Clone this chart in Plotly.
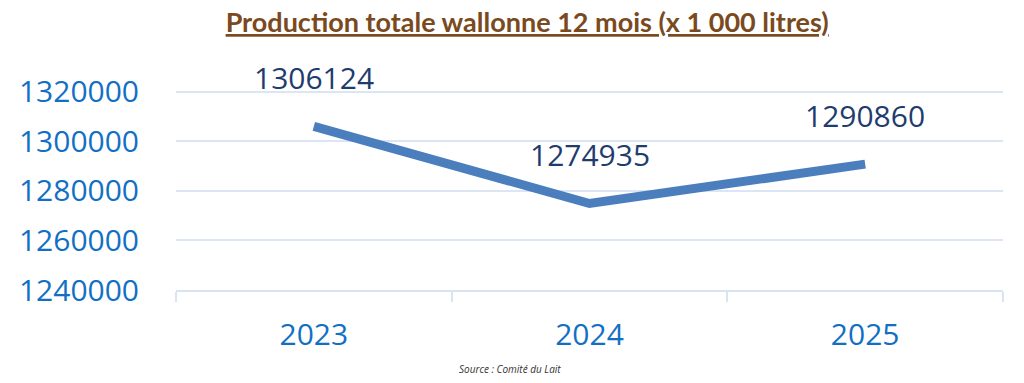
import plotly.graph_objects as go

years = ["2023", "2024", "2025"]
production = [1306124, 1274935, 1290860]
y_ticks = [1240000, 1260000, 1280000, 1300000, 1320000]

fig = go.Figure()
fig.add_trace(go.Scatter(
    x=years, y=production, mode="lines",
    line=dict(color="#4a7ebd", width=9),
    hoverinfo="skip", showlegend=False,
))

for i, y in enumerate(production):
    fig.add_annotation(
        x=i, y=y, text=str(y), showarrow=False, yshift=49,
        font=dict(family="Open Sans", size=30, color="#1f3c6e"),
        xanchor="center", yanchor="middle",
    )

fig.add_annotation(
    x=0.5, y=0, xref="paper", yref="paper", yanchor="middle",
    text="<i>Source : Comité du Lait</i>", showarrow=False,
    xshift=-80, yshift=-79,
    font=dict(family="Open Sans", size=10, color="#333333"),
)

fig.update_layout(
    width=1024, height=383,
    margin=dict(l=168, r=29, t=81, b=101),
    paper_bgcolor="white", plot_bgcolor="white",
    title=dict(
        text="<b><u>Production totale wallonne 12 mois (x 1 000 litres)</u></b>",
        x=0.507, xanchor="center", y=0.962, yanchor="middle",
        font=dict(family="Lato", size=27, color="#7a4a1e", weight=900),
    ),
    xaxis=dict(
        type="category", range=[-0.5, 2.5], autorange=False,
        showgrid=False, showline=True,
        linecolor="#d9e4f3", linewidth=2,
        ticks="outside", tickson="boundaries", ticklen=10,
        tickcolor="#d9e4f3", tickwidth=2, tickangle=0,
        tickfont=dict(family="Open Sans", size=30, color="#1170c4"),
        ticklabelstandoff=17, automargin=False,
        fixedrange=True,
    ),
    yaxis=dict(
        range=[1240000, 1321200], autorange=False, tickvals=y_ticks, tickformat="d",
        showgrid=True, gridcolor="#dbe5f3", gridwidth=2,
        zeroline=False, showline=False, ticks="",
        tickfont=dict(family="Open Sans", size=30, color="#1170c4"),
        ticklabelstandoff=36, automargin=False,
        fixedrange=True,
    ),
)

fig.write_html("out.html")
